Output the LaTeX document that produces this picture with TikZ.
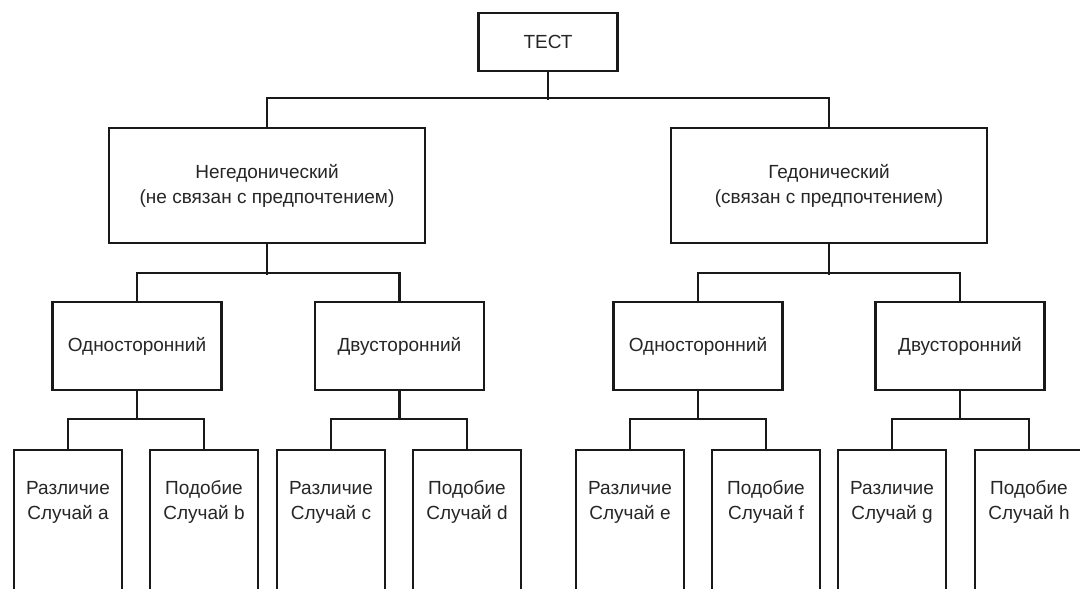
\documentclass[tikz,border=0pt]{standalone}
\usepackage{fontspec}
\setmainfont{Liberation Sans}
\newcommand{\lblfont}{\fontsize{19}{25}\selectfont}
\begin{document}
\begin{tikzpicture}[x=1pt,y=-1pt,
  box/.style={draw=black!90, line width=2.4pt, rectangle, inner sep=0pt, align=center, font=\lblfont, text=black!85},
  txt/.style={inner sep=0pt, align=center, font=\lblfont, text=black!85},
  ln/.style={draw=black!90, line width=2.4pt},
  top/.style={box, minimum width=139pt, minimum height=58pt},
  big/.style={box, minimum width=316pt, minimum height=115pt},
  mid/.style={box, minimum width=169pt, minimum height=88pt},
  leaf/.style={box, minimum width=108pt, minimum height=300pt, anchor=north},
]
\useasboundingbox (0,0) rectangle (1080,589);
\clip (0,0) rectangle (1080,589);
\fill[white] (0,0) rectangle (1080,589);

% level 0
\node[top] (test) at (548,42) {ТЕСТ};

% level 1
\node[big] (neg) at (267,185.5) {Негедонический\\(не связан с предпочтением)};
\node[big] (hed) at (829,185.5) {Гедонический\\(связан с предпочтением)};

% level 2
\node[mid] (n1) at (137,346) {Односторонний};
\node[mid] (n2) at (399.5,346) {Двусторонний};
\node[mid] (h1) at (698,346) {Односторонний};
\node[mid] (h2) at (960,346) {Двусторонний};

% level 3 boxes
\node[leaf] (ba) at (68,449) {};
\node[leaf] (bb) at (204,449) {};
\node[leaf] (bc) at (331,449) {};
\node[leaf] (bd) at (467,449) {};
\node[leaf] (be) at (630,449) {};
\node[leaf] (bf) at (766,449) {};
\node[leaf] (bg) at (892,449) {};
\node[leaf] (bh) at (1029,449) {};

% level 3 texts
\node[txt] (ta) at (68,502) {Различие\\Случай a};
\node[txt] (tb) at (204,502) {Подобие\\Случай b};
\node[txt] (tc) at (331,502) {Различие\\Случай c};
\node[txt] (td) at (467,502) {Подобие\\Случай d};
\node[txt] (te) at (630,502) {Различие\\Случай e};
\node[txt] (tf) at (766,502) {Подобие\\Случай f};
\node[txt] (tg) at (892,502) {Различие\\Случай g};
\node[txt] (th) at (1029,502) {Подобие\\Случай h};

% connectors level 0 -> 1
\draw[ln] (test.south) -- ++(0,28);
\draw[ln] (neg.north) -- ++(0,-29) -| (hed.north);

% level 1 -> 2
\draw[ln] (neg.south) -- ++(0,31);
\draw[ln] (n1.north) -- ++(0,-28) -| (n2.north);
\draw[ln] (hed.south) -- ++(0,31);
\draw[ln] (h1.north) -- ++(0,-28) -| (h2.north);

% level 2 -> 3
\draw[ln] (n1.south) -- ++(0,29);
\draw[ln] (ba.north) -- ++(0,-30) -| (bb.north);
\draw[ln] (n2.south) -- ++(0,29);
\draw[ln] (bc.north) -- ++(0,-30) -| (bd.north);
\draw[ln] (h1.south) -- ++(0,29);
\draw[ln] (be.north) -- ++(0,-30) -| (bf.north);
\draw[ln] (h2.south) -- ++(0,29);
\draw[ln] (bg.north) -- ++(0,-30) -| (bh.north);
\end{tikzpicture}
\end{document}
